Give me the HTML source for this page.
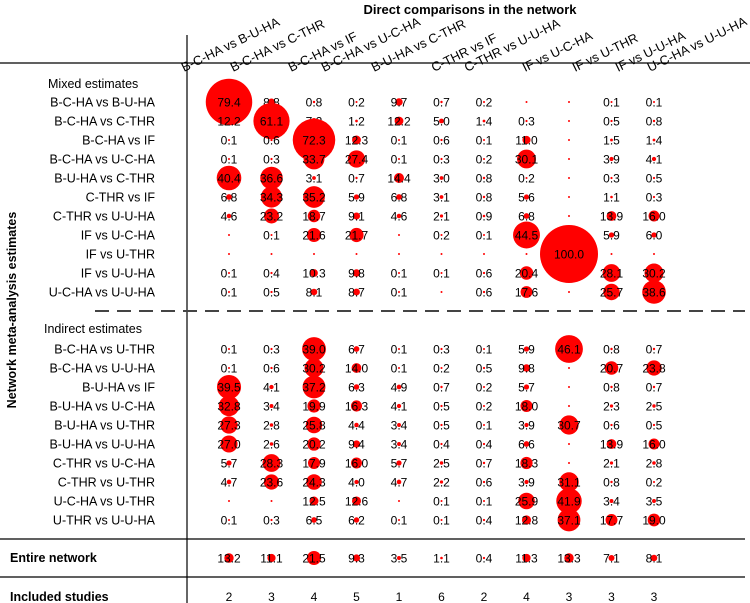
<!DOCTYPE html>
<html><head><meta charset="utf-8"><style>
body{margin:0;background:#fff}
svg{display:block;font-family:"Liberation Sans",Arial,sans-serif}
</style></head><body>
<svg id="c" width="750" height="603" viewBox="0 0 750 603">
<text x="470" y="14" font-size="13" font-weight="bold" text-anchor="middle">Direct comparisons in the network</text>
<text transform="translate(16,310) rotate(-90)" font-size="12.5" font-weight="bold" text-anchor="middle">Network meta-analysis estimates</text>
<line x1="0" y1="63" x2="750" y2="63" stroke="#000" stroke-width="1.2"/>
<line x1="187" y1="35" x2="187" y2="603" stroke="#000" stroke-width="1.2"/>
<line x1="95" y1="311" x2="745" y2="311" stroke="#444" stroke-width="2" stroke-dasharray="14,8"/>
<line x1="0" y1="539" x2="745" y2="539" stroke="#000" stroke-width="1.2"/>
<line x1="0" y1="577" x2="745" y2="577" stroke="#000" stroke-width="1.2"/>
<text x="48" y="88" font-size="12.5">Mixed estimates</text>
<text x="44" y="333" font-size="12.5">Indirect estimates</text>
<text x="10" y="562" font-size="12.5" font-weight="bold">Entire network</text>
<text x="10" y="601" font-size="12.5" font-weight="bold">Included studies</text>
<g id="g"></g>
</svg>
<script>
const columns=["B-C-HA vs B-U-HA","B-C-HA vs C-THR","B-C-HA vs IF","B-C-HA vs U-C-HA","B-U-HA vs C-THR","C-THR vs IF","C-THR vs U-U-HA","IF vs U-C-HA","IF vs U-THR","IF vs U-U-HA","U-C-HA vs U-U-HA"];
const mixedRows=["B-C-HA vs B-U-HA","B-C-HA vs C-THR","B-C-HA vs IF","B-C-HA vs U-C-HA","B-U-HA vs C-THR","C-THR vs IF","C-THR vs U-U-HA","IF vs U-C-HA","IF vs U-THR","IF vs U-U-HA","U-C-HA vs U-U-HA"];
const mixedValues=[
[79.4,8.8,0.8,0.2,9.7,0.7,0.2,null,null,0.1,0.1],
[12.2,61.1,7.2,1.2,12.2,5.0,1.4,0.3,null,0.5,0.8],
[0.1,0.6,72.3,12.3,0.1,0.6,0.1,11.0,null,1.5,1.4],
[0.1,0.3,33.7,27.4,0.1,0.3,0.2,30.1,null,3.9,4.1],
[40.4,36.6,3.1,0.7,14.4,3.0,0.8,0.2,null,0.3,0.5],
[6.8,34.3,35.2,5.9,6.8,3.1,0.8,5.6,null,1.1,0.3],
[4.6,23.2,18.7,9.1,4.6,2.1,0.9,6.8,null,13.9,16.0],
[null,0.1,21.6,21.7,null,0.2,0.1,44.5,null,5.9,6.0],
[null,null,null,null,null,null,null,null,100.0,null,null],
[0.1,0.4,10.3,9.8,0.1,0.1,0.6,20.4,null,28.1,30.2],
[0.1,0.5,8.1,8.7,0.1,null,0.6,17.6,null,25.7,38.6]];
const indirectRows=["B-C-HA vs U-THR","B-C-HA vs U-U-HA","B-U-HA vs IF","B-U-HA vs U-C-HA","B-U-HA vs U-THR","B-U-HA vs U-U-HA","C-THR vs U-C-HA","C-THR vs U-THR","U-C-HA vs U-THR","U-THR vs U-U-HA"];
const indirectValues=[
[0.1,0.3,39.0,6.7,0.1,0.3,0.1,5.9,46.1,0.8,0.7],
[0.1,0.6,30.2,14.0,0.1,0.2,0.5,9.8,null,20.7,23.8],
[39.5,4.1,37.2,6.3,4.9,0.7,0.2,5.7,null,0.8,0.7],
[32.8,3.4,19.9,16.3,4.1,0.5,0.2,18.0,null,2.3,2.5],
[27.3,2.8,25.8,4.4,3.4,0.5,0.1,3.9,30.7,0.6,0.5],
[27.0,2.6,20.2,9.4,3.4,0.4,0.4,6.6,null,13.9,16.0],
[5.7,28.3,17.9,16.0,5.7,2.5,0.7,18.3,null,2.1,2.8],
[4.7,23.6,24.3,4.0,4.7,2.2,0.6,3.9,31.1,0.8,0.2],
[null,null,12.5,12.6,null,0.1,0.1,25.9,41.9,3.4,3.5],
[0.1,0.3,6.5,6.2,0.1,0.1,0.4,12.8,37.1,17.7,19.0]];
const entireNetwork=[13.2,11.1,21.5,9.3,3.5,1.1,0.4,11.3,13.3,7.1,8.1];
const includedStudies=[2,3,4,5,1,6,2,4,3,3,3];
const headerStarts=[184,233,291,324,374,434,467,525,575,618,650];

const NS="http://www.w3.org/2000/svg";
const g=document.getElementById('g');
const xCol=i=>229+i*42.5;
const yMixed=i=>102+i*19;
const yInd=i=>349+i*19;
const rScale=v=>v==null?1:0.28*v+1;
function mk(t,a){const e=document.createElementNS(NS,t);for(const k in a)e.setAttribute(k,a[k]);g.appendChild(e);return e;}
columns.forEach((c,i)=>{
  const t=mk('text',{transform:`translate(${headerStarts[i]},72) rotate(-26)`,'font-size':'12.8'});
  t.textContent=c;
  
  
});
function rowLabel(txt,y){
  const t=mk('text',{x:155,y:y+4.5,'font-size':'12.5','text-anchor':'end'});
  t.textContent=txt;
  
  
}
function cell(v,x,y){
  const c=mk('circle',{cx:x,cy:y,r:rScale(v),fill:'#ff0000'});
  
  
  if(v!=null){
    const t=mk('text',{x:x,y:y+4.5,'font-size':'12','text-anchor':'middle'});
    t.textContent=v.toFixed(1);
    
    
  }
}
mixedRows.forEach((r,i)=>{rowLabel(r,yMixed(i));mixedValues[i].forEach((v,j)=>cell(v,xCol(j),yMixed(i)));});
indirectRows.forEach((r,i)=>{rowLabel(r,yInd(i));indirectValues[i].forEach((v,j)=>cell(v,xCol(j),yInd(i)));});
entireNetwork.forEach((v,j)=>cell(v,xCol(j),558));
includedStudies.forEach((v,j)=>{
  const t=mk('text',{x:xCol(j),y:601,'font-size':'12','text-anchor':'middle'});
  t.textContent=v;
  
  
});
</script>
</body></html>
